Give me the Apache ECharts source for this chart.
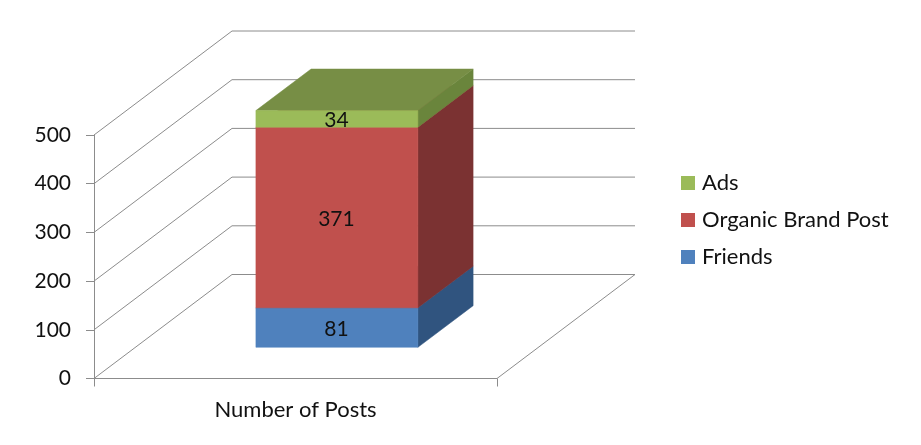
<!DOCTYPE html>
<html>
<head>
<meta charset="utf-8">
<style>html,body{margin:0;padding:0;background:#fff}#c{width:921px;height:445px}</style>
<script src="https://cdn.jsdelivr.net/npm/echarts@6/dist/echarts.min.js"></script>
</head>
<body>
<div id="c"></div>
<script>
const categories = ['Number of Posts'];
const friends = [81];
const organic = [371];
const ads = [34];
const tickValues = [0, 100, 200, 300, 400, 500];
const seriesNames = ['Ads', 'Organic Brand Post', 'Friends'];

const FONT = 'Lato, "Open Sans", sans-serif';
const DEPTH_X = 138, DEPTH_Y = -104;      // oblique depth vector of the box
const BAR_START = 0.3, BAR_DEPTH = 0.4;   // fractions of depth
const BAR_HALF = 81;
const LINE = '#8c8c8c';

function wallItem(params, api) {
  const cs = params.coordSys;
  const y = api.coord([0, api.value(1)])[1];
  const x0 = cs.x, x1 = cs.x + cs.width;
  const pts = [];
  if (api.value(1) === 0) pts.push([x1, y]);
  pts.push([x0, y], [x0 + DEPTH_X, y + DEPTH_Y], [x1 + DEPTH_X, y + DEPTH_Y]);
  if (api.value(1) === 0) pts.push([x1, y]);
  return {
    type: 'polyline', silent: true,
    shape: { points: pts },
    style: { stroke: LINE, lineWidth: 1, fill: null }
  };
}

function boxSeries(name, values, bases, front, side, top) {
  return {
    name, type: 'custom', coordinateSystem: 'cartesian2d', z: 3,
    itemStyle: { color: front },
    data: values.map((v, i) => [i, bases[i], bases[i] + v, v]),
    encode: { x: 0, y: 2 },
    renderItem(params, api) {
      const c = api.coord([api.value(0), api.value(1)]);
      const t = api.coord([api.value(0), api.value(2)]);
      const sx = DEPTH_X * BAR_START, sy = DEPTH_Y * BAR_START;
      const dx = DEPTH_X * BAR_DEPTH, dy = DEPTH_Y * BAR_DEPTH;
      const l = c[0] + sx - BAR_HALF, r = c[0] + sx + BAR_HALF;
      const b = c[1] + sy, u = t[1] + sy;
      const poly = (pts, fill) => ({
        type: 'polygon', shape: { points: pts },
        style: { fill, stroke: fill, lineWidth: 0.5 }
      });
      return {
        type: 'group',
        children: [
          poly([[r, b], [r + dx, b + dy], [r + dx, u + dy], [r, u]], side),
          poly([[l, u], [r, u], [r + dx, u + dy], [l + dx, u + dy]], top),
          poly([[l, b], [r, b], [r, u], [l, u]], front),
          {
            type: 'text', z2: 10,
            style: {
              text: String(api.value(3)), x: (l + r) / 2 - 0.5, y: (b + u) / 2 + 1.5,
              align: 'center', verticalAlign: 'middle',
              font: '21px ' + FONT, fill: '#111'
            }
          }
        ]
      };
    }
  };
}

const base2 = friends.map((v, i) => v + organic[i]);

const option = {
  animation: false,
  backgroundColor: '#fff',
  grid: { left: 94, top: 135, width: 403, height: 243.5, containLabel: false },
  legend: {
    left: 676, top: 166, orient: 'vertical', icon: 'rect',
    itemWidth: 14, itemHeight: 14, itemGap: 13, selectedMode: false,
    data: seriesNames,
    textStyle: { fontFamily: FONT, fontSize: 22, color: '#111', padding: [0, 0, 0, 2], height: 24, lineHeight: 24 }
  },
  xAxis: {
    type: 'category', data: categories,
    axisLine: { show: false },
    axisTick: { show: true, length: 8, lineStyle: { color: LINE } },
    axisLabel: { margin: 20, fontFamily: FONT, fontSize: 22, color: '#111' }
  },
  yAxis: {
    type: 'value', min: 0, max: 500, interval: 100,
    axisLine: { show: true, lineStyle: { color: LINE } },
    axisTick: { show: true, length: 8, lineStyle: { color: LINE } },
    axisLabel: { margin: 23, fontFamily: FONT, fontSize: 21, color: '#111' },
    splitLine: { show: false }
  },
  series: [
    {
      type: 'custom', name: 'walls', coordinateSystem: 'cartesian2d', z: 1, silent: true,
      data: tickValues.map(v => [0, v]), encode: { x: 0, y: 1 }, renderItem: wallItem
    },
    boxSeries('Friends', friends, friends.map(() => 0), '#4F81BD', '#30547F', '#3E6596'),
    boxSeries('Organic Brand Post', organic, friends, '#C0504D', '#7B3232', '#963E3C'),
    boxSeries('Ads', ads, base2, '#9BBB59', '#6A853C', '#778E45')
  ]
};
echarts.init(document.getElementById('c'), null, { renderer: 'canvas' }).setOption(option);
</script>
</body>
</html>
